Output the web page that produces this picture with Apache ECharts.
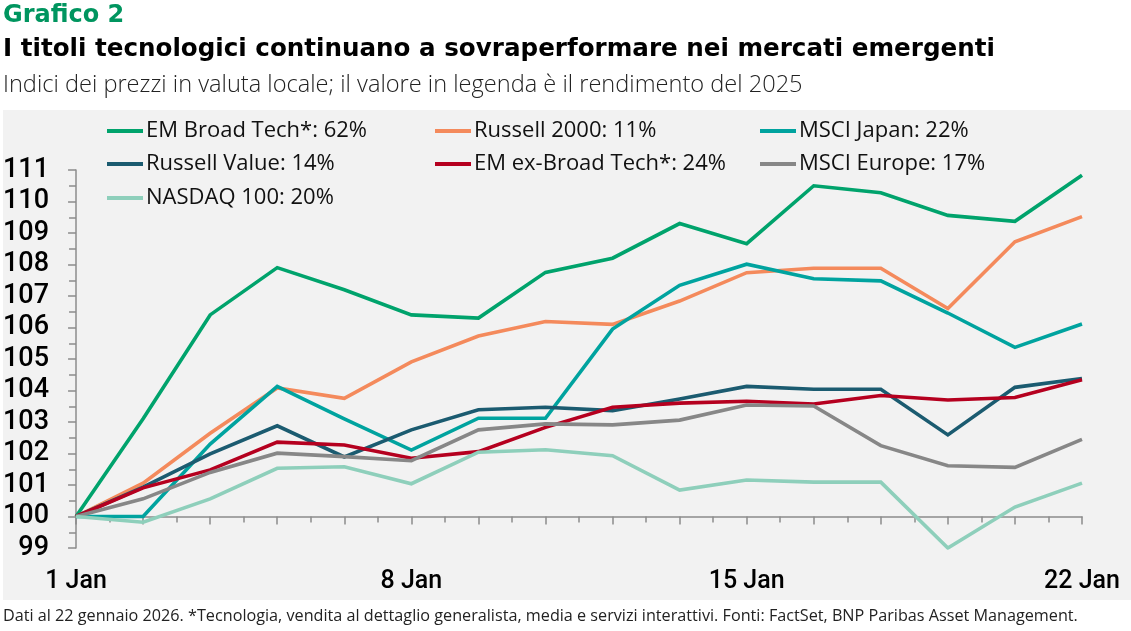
<!DOCTYPE html>
<html>
<head>
<meta charset="utf-8">
<script src="https://cdn.jsdelivr.net/npm/echarts@6/dist/echarts.min.js"></script>
<style>
  html, body { margin: 0; padding: 0; background: #ffffff; }
  #chart { width: 1131px; height: 631px; }
</style>
</head>
<body>
<div id="chart"></div>
<script>
// Trading days shown on the x axis (index = position)
var dates = ['1 Jan','2 Jan','5 Jan','6 Jan','7 Jan','8 Jan','9 Jan','12 Jan','13 Jan','14 Jan','15 Jan','16 Jan','19 Jan','20 Jan','21 Jan','22 Jan'];
var xTickLabels = ['1 Jan','8 Jan','15 Jan','22 Jan'];
var yTickLabels = [99,100,101,102,103,104,105,106,107,108,109,110,111];

var seriesNames = [
  'EM Broad Tech*: 62%',
  'Russell 2000: 11%',
  'MSCI Japan: 22%',
  'Russell Value: 14%',
  'EM ex-Broad Tech*: 24%',
  'MSCI Europe: 17%',
  'NASDAQ 100: 20%'
];
var seriesColors = ['#00a36c','#f48a5c','#00a39f','#1b5b70','#b5001f','#878787','#8ecfbb'];

var emBroadTech   = [100.0,103.1,106.4,107.9,107.2,106.4,106.3,107.75,108.2,109.3,108.66,110.5,110.28,109.56,109.37,110.83];
var russell2000   = [100.0,101.06,102.64,104.08,103.75,104.91,105.73,106.19,106.1,106.84,107.74,107.88,107.88,106.6,108.72,109.52];
var msciJapan     = [100.0,100.0,102.3,104.13,103.1,102.11,103.12,103.12,105.95,107.34,108.01,107.55,107.48,106.46,105.37,106.11];
var russellValue  = [100.0,100.93,101.99,102.88,101.89,102.75,103.39,103.47,103.36,103.73,104.13,104.04,104.04,102.59,104.1,104.38];
var emExBroadTech = [100.0,100.91,101.48,102.36,102.27,101.85,102.06,102.83,103.47,103.6,103.66,103.57,103.84,103.7,103.78,104.34];
var msciEurope    = [100.0,100.56,101.4,102.01,101.9,101.77,102.75,102.94,102.91,103.06,103.54,103.51,102.25,101.61,101.56,102.45];
var nasdaq100     = [100.0,99.82,100.56,101.53,101.58,101.04,102.04,102.12,101.93,100.84,101.16,101.09,101.09,99.0,100.3,101.06];

var allSeries = [emBroadTech, russell2000, msciJapan, russellValue, emExBroadTech, msciEurope, nasdaq100];

// The x axis crosses the y axis at 100: values are plotted relative to the base 100
var BASE = 100;

var FONT = 'Roboto, "Noto Sans", sans-serif';
var WIDE = '"Open Sans", "Noto Sans", sans-serif';
var HEAD = '"DejaVu Sans", "Noto Sans", sans-serif';

var legendPos = [
  [107,119],[435,119],[760,119],
  [107,152],[435,152],[760,152],
  [107,186]
];

var chart = echarts.init(document.getElementById('chart'), null, {renderer: 'canvas'});

var legends = seriesNames.map(function (n, i) {
  return {
    data: [n],
    left: legendPos[i][0],
    top: legendPos[i][1],
    padding: 0,
    icon: 'rect',
    itemWidth: 36,
    itemHeight: 4,
    selectedMode: false,
    textStyle: { fontFamily: WIDE, fontSize: 22, color: '#111', lineHeight: 24, padding: [0,0,0,-2] }
  };
});

var option = {
  backgroundColor: '#ffffff',
  animation: false,
  title: [
    { text: 'Grafico 2', left: 3, top: 4, padding: 0,
      textStyle: { fontFamily: HEAD, fontSize: 24, fontWeight: 'bold', color: '#00955f' } },
    { text: 'I titoli tecnologici continuano a sovraperformare nei mercati emergenti', left: 3, top: 37, padding: 0,
      textStyle: { fontFamily: HEAD, fontSize: 24.6, fontWeight: 'bold', color: '#000' } },
    { text: 'Indici dei prezzi in valuta locale; il valore in legenda è il rendimento del 2025', left: 3, top: 73, padding: 0,
      textStyle: { fontFamily: WIDE, fontSize: 23.6, fontWeight: 300, color: '#222' } },
    { text: 'Dati al 22 gennaio 2026. *Tecnologia, vendita al dettaglio generalista, media e servizi interattivi. Fonti: FactSet, BNP Paribas Asset Management.',
      left: 3, top: 608, padding: 0,
      textStyle: { fontFamily: WIDE, fontSize: 16.2, fontWeight: 'normal', color: '#222' } }
  ],
  graphic: [
    { type: 'rect', z: -100, silent: true,
      shape: { x: 3, y: 110, width: 1128, height: 490 },
      style: { fill: '#f2f2f2' } }
  ],
  legend: legends,
  grid: { left: 75, right: 49, top: 170, bottom: 83, containLabel: false },
  xAxis: {
    type: 'value',
    min: 0, max: dates.length - 1, interval: 1,
    axisLine: { onZero: true, lineStyle: { color: '#8c8c8c', width: 1.5 } },
    axisTick: { show: true, length: 8, lineStyle: { color: '#8c8c8c', width: 1.5 } },
    minorTick: { show: true, splitNumber: 2, length: 6, lineStyle: { color: '#8c8c8c', width: 1.5 } },
    splitLine: { show: false },
    minorSplitLine: { show: false },
    axisLabel: {
      margin: 21,
      fontFamily: FONT, fontSize: 25, fontWeight: 500, color: '#000',
      showMinLabel: true, showMaxLabel: true,
      formatter: function (v) {
        var d = dates[Math.round(v)];
        return xTickLabels.indexOf(d) >= 0 ? d : '';
      }
    }
  },
  yAxis: {
    type: 'value',
    min: yTickLabels[0] - BASE, max: yTickLabels[yTickLabels.length - 1] - BASE, interval: 1,
    axisLine: { show: true, onZero: false, lineStyle: { color: '#8c8c8c', width: 1.5 } },
    axisTick: { show: true, length: 8, lineStyle: { color: '#8c8c8c', width: 1.5 } },
    minorTick: { show: true, splitNumber: 2, length: 7, lineStyle: { color: '#8c8c8c', width: 1.5 } },
    splitLine: { show: false },
    minorSplitLine: { show: false },
    axisLabel: {
      margin: 27,
      fontFamily: FONT, fontSize: 27, fontWeight: 500, color: '#000',
      formatter: function (v) { return String(Math.round(v + BASE)); }
    }
  },
  series: allSeries.map(function (arr, i) {
    return {
      name: seriesNames[i],
      type: 'line',
      symbol: 'none',
      color: seriesColors[i],
      lineStyle: { color: seriesColors[i], width: 3.6, join: 'miter' },
      data: arr.map(function (v, k) { return [k, v - BASE]; }),
      z: 2 + i
    };
  })
};

chart.setOption(option);
</script>
</body>
</html>
